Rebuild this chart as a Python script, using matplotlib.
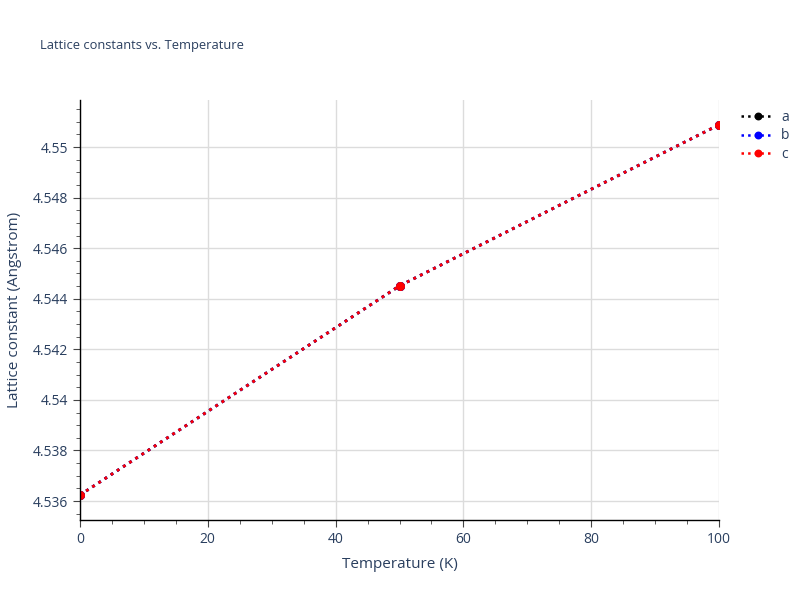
import matplotlib.pyplot as plt
from matplotlib.ticker import MultipleLocator

# data
temperature = [0, 50, 100]
lat_a = [4.53624, 4.54451, 4.55088]
lat_b = [4.53624, 4.54451, 4.55088]
lat_c = [4.53624, 4.54451, 4.55088]

series_names = ['a', 'b', 'c']
series_colors = ['black', 'blue', 'red']

text_col = '#2a3f5f'
plt.rcParams['font.family'] = ['Open Sans', 'DejaVu Sans']

fig = plt.figure(figsize=(8, 6), dpi=100)
ax = fig.add_axes([0.1, 0.1333, 0.79875, 0.7])

for vals, name, col in zip([lat_a, lat_b, lat_c], series_names, series_colors):
    ax.plot(temperature, vals, linestyle=':', linewidth=2, color=col,
            marker='o', markersize=5.5, label=name)

ax.set_xlim(0, 100)
ax.set_ylim(4.53525, 4.55186)

ax.xaxis.set_major_locator(MultipleLocator(20))
ax.xaxis.set_minor_locator(MultipleLocator(5))
ax.yaxis.set_major_locator(MultipleLocator(0.002))
ax.yaxis.set_minor_locator(MultipleLocator(0.0005))

ax.set_yticks(ax.get_yticks())
ylabels = []
for t in ax.get_yticks():
    s = ('%.3f' % t).rstrip('0').rstrip('.')
    ylabels.append(s)
ax.set_yticklabels(ylabels)
ax.set_ylim(4.53525, 4.55186)

ax.grid(True, which='major', color='#dcdcdc', linewidth=1)
ax.set_axisbelow(True)

for side in ['top', 'right']:
    ax.spines[side].set_visible(False)
for side in ['left', 'bottom']:
    ax.spines[side].set_color('black')
    ax.spines[side].set_linewidth(1)

ax.tick_params(which='major', direction='out', length=5, color='#444444',
               labelcolor=text_col, labelsize=10)
ax.tick_params(which='minor', direction='out', length=3, color='#444444')

ax.set_xlabel('Temperature (K)', color=text_col, fontsize=11, labelpad=7)
ax.set_ylabel('Lattice constant (Angstrom)', color=text_col, fontsize=11, labelpad=8)

fig.text(0.05, 0.925, 'Lattice constants vs. Temperature', color=text_col, fontsize=9.3,
         va='center')

leg = ax.legend(loc='upper left', bbox_to_anchor=(1.015, 1.007), frameon=False,
                fontsize=10, handlelength=2.4, handletextpad=0.5, labelspacing=0.28,
                markerscale=0.85)
for t in leg.get_texts():
    t.set_color(text_col)
for h in leg.get_lines():
    h.set_linewidth(1.8)

fig.savefig('out.png', dpi=100)
